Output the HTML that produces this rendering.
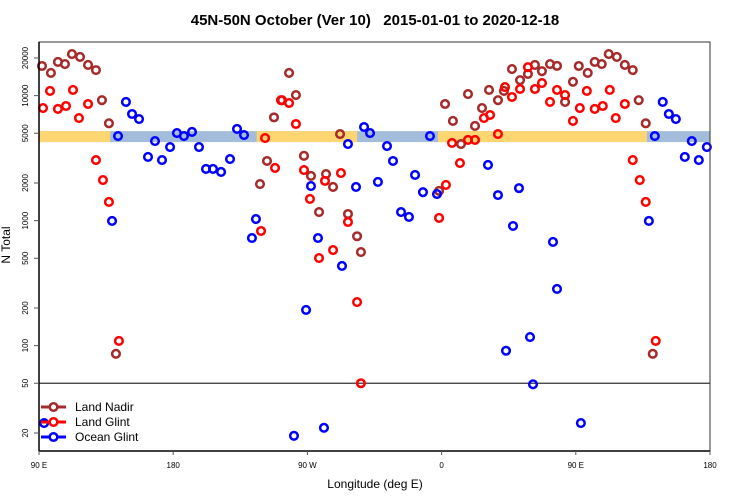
<!DOCTYPE html>
<html><head><meta charset="utf-8"><style>
body{margin:0;background:#fff;}
svg{display:block;font-family:"Liberation Sans",Arial,sans-serif;}
</style></head><body>
<svg id="chart" width="750" height="500" xmlns="http://www.w3.org/2000/svg">
<text x="375" y="25" text-anchor="middle" font-size="15" font-weight="bold">45N-50N October (Ver 10)&#160;&#160; 2015-01-01 to 2020-12-18</text>
<text x="375" y="488" text-anchor="middle" font-size="12">Longitude (deg E)</text>
<text transform="translate(10,245) rotate(-90)" text-anchor="middle" font-size="12">N Total</text>
<g id="band"></g>
<g id="grid"></g>
<g id="marks"></g>
<g id="axes"></g>
<g id="legend">
  <g>
    <line x1="41" y1="407" x2="66" y2="407" stroke="#a52a2a" stroke-width="3"/>
    <circle cx="53.5" cy="407" r="3.8" fill="#fff" stroke="#a52a2a" stroke-width="2.5"/>
    <text x="75" y="411" font-size="12">Land Nadir</text>
  </g>
  <g>
    <line x1="41" y1="422" x2="66" y2="422" stroke="#ff0000" stroke-width="3"/>
    <circle cx="53.5" cy="422" r="3.8" fill="#fff" stroke="#ff0000" stroke-width="2.5"/>
    <text x="75" y="426" font-size="12">Land Glint</text>
  </g>
  <g>
    <line x1="41" y1="437" x2="66" y2="437" stroke="#0000ff" stroke-width="3"/>
    <circle cx="53.5" cy="437" r="3.8" fill="#fff" stroke="#0000ff" stroke-width="2.5"/>
    <text x="75" y="441" font-size="12">Ocean Glint</text>
  </g>
</g>
</svg>
<script>
// ---- data ----
const landNadirLon = [92.0,98.0,102.7,107.4,112.1,117.5,122.9,128.2,132.2,136.9,141.6,-121.8,-117.1,-112.4,-102.3,-107,-97.7,-92.3,-87.6,-77.5,-72.8,-82.2,-68.1,-62.8,-56.7,-54.1,-1.7,2.3,7.6,13.0,17.7,22.4,27.1,31.8,37.8,41.8,47.2,52.6,57.9,62.6,67.3,72.7,77.4,82.8,88.1];
const landNadirN = [17260,15200,18600,17900,21500,20400,17600,16000,9200,6000,86,1960,3000,6700,15200,9200,10100,3300,2280,2360,1860,1170,4930,1130,750,560,1730,8570,6270,4100,10300,5720,7960,11100,9200,10900,16300,13300,14900,17600,15700,17900,17300,8900,12900];
const landGlintLon = [92.7,97.4,102.7,108.1,112.8,116.8,122.9,128.2,132.9,136.9,143.6,-121.1,-118.4,-111.7,-107.7,-102.3,-97.7,-92.3,-88.3,-82.2,-78.2,-72.8,-67.5,-62.8,-56.7,-54.1,-1.7,2.9,7.0,12.3,17.7,22.4,28.4,32.5,37.8,42.5,47.2,52.6,57.9,62.6,67.3,72.7,77.4,82.8,88.1];
const landGlintN = [7960,10900,7820,8260,11100,6620,8570,3050,2110,1410,109,826,4580,2640,9200,8730,5930,2540,1490,502,2080,582,2400,975,223,50,1050,1930,4180,2890,4420,4420,6620,7000,4930,11700,9750,11300,16900,11300,12600,8900,11100,10100,6270];
const oceanGlintLon = [93.4,139.0,143.0,148.3,152.4,157.1,163.1,167.8,172.5,177.9,-177.5,-172.8,-167.4,-162.7,-158,-153.3,-147.9,-141.9,-137.2,-132.5,-127.2,-124.5,-99,-90.9,-87.6,-82.9,-78.9,-66.8,-62.8,-57.4,-52,-48,-42.7,-36.6,-32.6,-27.2,-21.9,-17.8,-12.5,-7.8,-3.1,31.1,37.8,43.2,47.9,51.9,59.3,61.3,74.7,77.4];
const oceanGlintN = [24,994,4750,8900,7130,6500,3230,4330,3050,3880,5020,4750,5120,3880,2590,2590,2450,3110,5410,4840,726,1030,19,193,1890,726,22,434,4100,1860,5610,5020,2040,3950,3000,1170,1070,2320,1690,4750,1630,2790,1600,91,906,1820,117,49,675,284];
const landSegments = [[-124,-56.7],[-2.4,137.7]];
const yTicks = [20,50,100,200,500,1000,2000,5000,10000,20000];
const xTickLon = [90,180,270,360,450,540];
const xTickLabels = ["90 E","180","90 W","0","90 E","180"];
const bandLow = 4250, bandHigh = 5200;

// ---- scales ----
const X0=39, X1=710, Y0=42, Y1=451;
function xs(L){ return X0 + (L-90)*(X1-X0)/450; }
function ys(v){ return 433 - (Math.log10(v) - Math.log10(20))*125; }
const NS="http://www.w3.org/2000/svg";
function mk(tag, attrs, parent){ const e=document.createElementNS(NS,tag); for(const k in attrs) e.setAttribute(k,attrs[k]); parent.appendChild(e); return e; }
function unwrap(lon){ const out=[]; for(const L of [lon, lon+360]) if(L>=90 && L<=540) out.push(L); return out; }

// band
const band=document.getElementById('band');
const bt=ys(bandHigh), bb=ys(bandLow);
const oc=mk('rect',{x:X0,y:bt,width:X1-X0,height:bb-bt,fill:'#a4bcdc'},band);


landSegments.forEach(s=>{
  [[s[0],s[1]],[s[0]+360,s[1]+360]].forEach(p=>{
    const a=Math.max(90,p[0]), b=Math.min(540,p[1]);
    if(b>a){
      const r=mk('rect',{x:xs(a),y:bt,width:xs(b)-xs(a),height:bb-bt,fill:'#fdd672'},band);
      
      
    }
  });
});

// ref line at 50
const grid=document.getElementById('grid');
const rl=mk('line',{x1:X0,x2:X1,y1:ys(50),y2:ys(50),stroke:'#333',"stroke-width":1.2},grid);



// marks
const marks=document.getElementById('marks');
function series(lons, vals, color, name){
  const g=mk('g',{},marks);
  
  
  lons.forEach((lon,i)=>{
    unwrap(lon).forEach(L=>{
      const c=mk('circle',{cx:xs(L),cy:ys(vals[i]),r:3.8,fill:'none',stroke:color,"stroke-width":2.5},g);
      
      
    });
  });
}
series(landNadirLon, landNadirN, '#a52a2a', 'land-nadir');
series(landGlintLon, landGlintN, '#ff0000', 'land-glint');
series(oceanGlintLon, oceanGlintN, '#0000ff', 'ocean-glint');

// axes
const axes=document.getElementById('axes');
const frame=mk('rect',{x:X0,y:Y0,width:X1-X0,height:Y1-Y0,fill:'none',stroke:'#333',"stroke-width":1},axes);


mk('line',{x1:X0,x2:X0,y1:Y0,y2:Y1,stroke:'#000',"stroke-width":1.5},axes);
mk('line',{x1:X0,x2:X1,y1:Y1,y2:Y1,stroke:'#000',"stroke-width":1.5},axes);
yTicks.forEach(v=>{
  const y=ys(v);
  mk('line',{x1:X0-5,x2:X0,y1:y,y2:y,stroke:'#555',"stroke-width":1},axes);
  const t=mk('text',{transform:`translate(28,${y}) rotate(-90)`,"text-anchor":"middle","font-size":8},axes);
  t.textContent=String(v);
  
  
});
xTickLon.forEach((L,i)=>{
  const x=xs(L);
  mk('line',{x1:x,x2:x,y1:Y1,y2:Y1+4,stroke:'#555',"stroke-width":1},axes);
  const t=mk('text',{x:x,y:468,"text-anchor":"middle","font-size":8},axes);
  t.textContent=xTickLabels[i];
  
  
});
</script>
</body></html>
